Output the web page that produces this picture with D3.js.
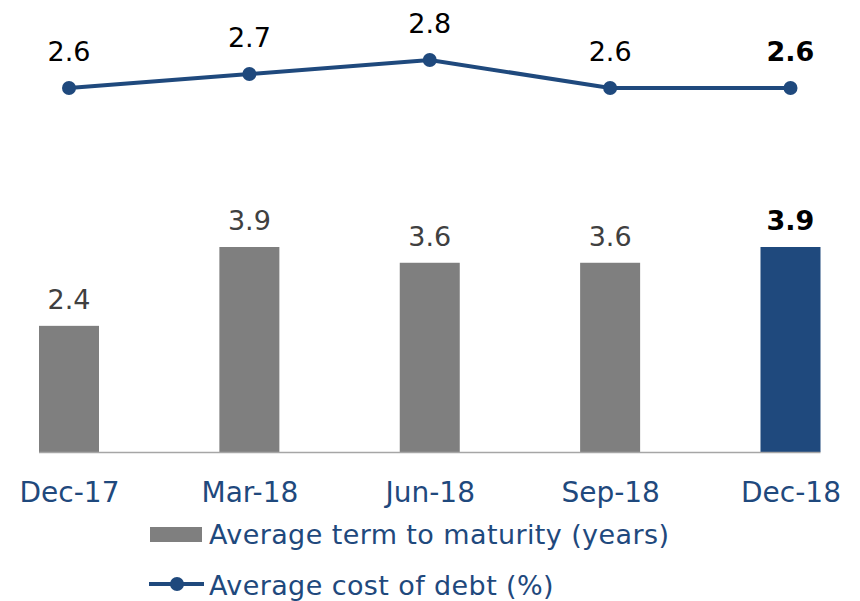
<!DOCTYPE html>
<html>
<head>
<meta charset="utf-8">
<script src="https://cdn.jsdelivr.net/npm/d3@7"></script>
<style>
  body { margin: 0; background: #fff; }
  text { font-family: "DejaVu Sans", sans-serif; }
</style>
</head>
<body>
<svg id="chart" width="860" height="601"></svg>
<script>
var quarters = ["Dec-17", "Mar-18", "Jun-18", "Sep-18", "Dec-18"];
var termYears = [2.4, 3.9, 3.6, 3.6, 3.9];
var costDebt = [2.6, 2.7, 2.8, 2.6, 2.6];
var legendLabels = ["Average term to maturity (years)", "Average cost of debt (%)"];

var svg = d3.select("#chart"),
  grey = "#7f7f7f",
  navy = "#1f497d",
  last = quarters.length - 1;

var x = d3.scalePoint().domain(quarters).range([69, 790.5]);
var barW = 60;

var yBar = d3.scaleLinear().domain([0, 3.9]).range([452, 247]);
var yLine = d3.scaleLinear().domain([2.6, 2.8]).range([88, 60]);

// bars
svg.append("g").selectAll("rect")
  .data(termYears)
  .enter().append("rect")
  .attr("x", function (d, i) { return x(quarters[i]) - barW / 2; })
  .attr("y", function (d) { return yBar(d); })
  .attr("width", barW)
  .attr("height", function (d) { return yBar(0) - yBar(d); })
  .attr("fill", function (d, i) { return i == last ? navy : grey; });

svg.append("g").selectAll("text")
  .data(termYears)
  .enter().append("text")
  .attr("x", function (d, i) { return x(quarters[i]); })
  .attr("y", function (d) { return yBar(d) - 17; })
  .attr("text-anchor", "middle")
  .attr("font-size", 27)
  .attr("font-weight", function (d, i) { return i == last ? "bold" : "normal"; })
  .attr("fill", function (d, i) { return i == last ? "#000" : "#404040"; })
  .text(function (d) { return d.toFixed(1); });

// x axis
var xAxis = svg.append("g")
  .attr("transform", "translate(0," + yBar(0) + ")")
  .call(d3.axisBottom(x).tickSize(0).tickPadding(30));
xAxis.select(".domain")
  .attr("d", "M" + (x(quarters[0]) - barW / 2) + ",0.5H" + (x(quarters[last]) + barW / 2))
  .attr("stroke", "#a6a6a6")
  .attr("stroke-width", 1.5);
xAxis.selectAll("text")
  .attr("font-family", "DejaVu Sans, sans-serif")
  .attr("font-size", 28)
  .attr("fill", navy);

// line
var line = d3.line()
  .x(function (d, i) { return x(quarters[i]); })
  .y(function (d) { return yLine(d); });

svg.append("path")
  .datum(costDebt)
  .attr("d", line)
  .attr("fill", "none")
  .attr("stroke", navy)
  .attr("stroke-width", 4);

svg.append("g").selectAll("circle")
  .data(costDebt)
  .enter().append("circle")
  .attr("cx", function (d, i) { return x(quarters[i]); })
  .attr("cy", function (d) { return yLine(d); })
  .attr("r", 7)
  .attr("fill", navy);

svg.append("g").selectAll("text")
  .data(costDebt)
  .enter().append("text")
  .attr("x", function (d, i) { return x(quarters[i]); })
  .attr("y", function (d) { return yLine(d) - 27; })
  .attr("text-anchor", "middle")
  .attr("font-size", 27)
  .attr("font-weight", function (d, i) { return i == last ? "bold" : "normal"; })
  .attr("fill", "#000")
  .text(function (d) { return d.toFixed(1); });

// legend
var legend = svg.append("g");
legend.append("rect")
  .attr("x", 150).attr("y", 527)
  .attr("width", 52).attr("height", 15)
  .attr("fill", grey);
legend.append("line")
  .attr("x1", 149).attr("x2", 204)
  .attr("y1", 584).attr("y2", 584)
  .attr("stroke", navy).attr("stroke-width", 4);
legend.append("circle")
  .attr("cx", 177).attr("cy", 584).attr("r", 7)
  .attr("fill", navy);
legend.selectAll("text")
  .data(legendLabels)
  .enter().append("text")
  .attr("x", 209)
  .attr("y", function (d, i) { return 544 + i * 51; })
  .attr("font-size", 27)
  .attr("letter-spacing", 0.4)
  .attr("fill", navy)
  .text(function (d) { return d; });
</script>
</body>
</html>
